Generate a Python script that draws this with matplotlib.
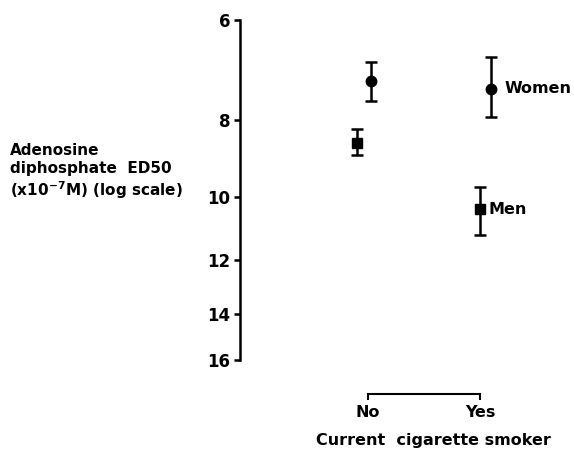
import numpy as np
import matplotlib
matplotlib.use('Agg')
from matplotlib import pyplot as plt, rcParams

rcParams['font.family'] = ['DejaVu Sans']
rcParams['font.weight'] = 'bold'
rcParams['axes.labelweight'] = 'bold'
rcParams['mathtext.default'] = 'bf'

# 数据
groups = ['No', 'Yes']
men_x = [-0.1, 1.0]
men_val = [8.55, 10.35]
men_lo = [8.22, 9.72]
men_hi = [8.86, 11.17]
women_x = [0.03, 1.1]
women_val = [7.15, 7.32]
women_lo = [6.77, 6.68]
women_hi = [7.59, 7.94]
yticks = [6, 8, 10, 12, 14, 16]

W, H = 574, 454
fig = plt.figure(figsize=(W / 100, H / 100), dpi=100)
ax = fig.add_axes([240 / W, 1 - 360 / H, (565 - 240) / W, 340 / H])

style = dict(color='black', ecolor='black', elinewidth=1.8, capsize=4, capthick=1.8, linestyle='none')
men_err = [np.subtract(men_val, men_lo), np.subtract(men_hi, men_val)]
women_err = [np.subtract(women_val, women_lo), np.subtract(women_hi, women_val)]
ax.errorbar(men_x, men_val, yerr=men_err, marker='s', markersize=6.5, **style)
ax.errorbar(women_x, women_val, yerr=women_err, marker='o', markersize=7.5, **style)

ax.text(women_x[1] + 0.12, women_val[1], 'Women', fontsize=11.5, va='center', ha='left')
ax.text(men_x[1] + 0.08, men_val[1], 'Men', fontsize=11.5, va='center', ha='left')

ax.set_yscale('log')
ax.set_ylim(16, 6)
ax.set_yticks(yticks)
ax.set_yticklabels([str(t) for t in yticks])
ax.yaxis.set_minor_locator(matplotlib.ticker.NullLocator())
ax.set_xlim((240 - 368) / 112, (565 - 368) / 112)

for s in ['top', 'right']:
    ax.spines[s].set_visible(False)
ax.spines['left'].set_linewidth(1.8)
ax.spines['bottom'].set_linewidth(1.5)
ax.spines['bottom'].set_bounds(0, 1)
ax.spines['bottom'].set_position(('outward', 24.5))
ax.set_xticks([0, 1])
ax.set_xticklabels(groups)
ax.tick_params(axis='y', direction='out', length=4, width=1.8, labelsize=12, pad=3)
ax.tick_params(axis='x', direction='out', length=4, width=1.5, labelsize=11.5, pad=4)
ax.set_xlabel('Current  cigarette smoker', fontsize=11.5, labelpad=9, x=0.594)

fig.text(10 / W, 1 - 172 / H, 'Adenosine\ndiphosphate  ED50\n(x10$^{-7}$M) (log scale)',
         fontsize=11, ha='left', va='center', linespacing=1.2)

fig.savefig('out.png', dpi=100)
